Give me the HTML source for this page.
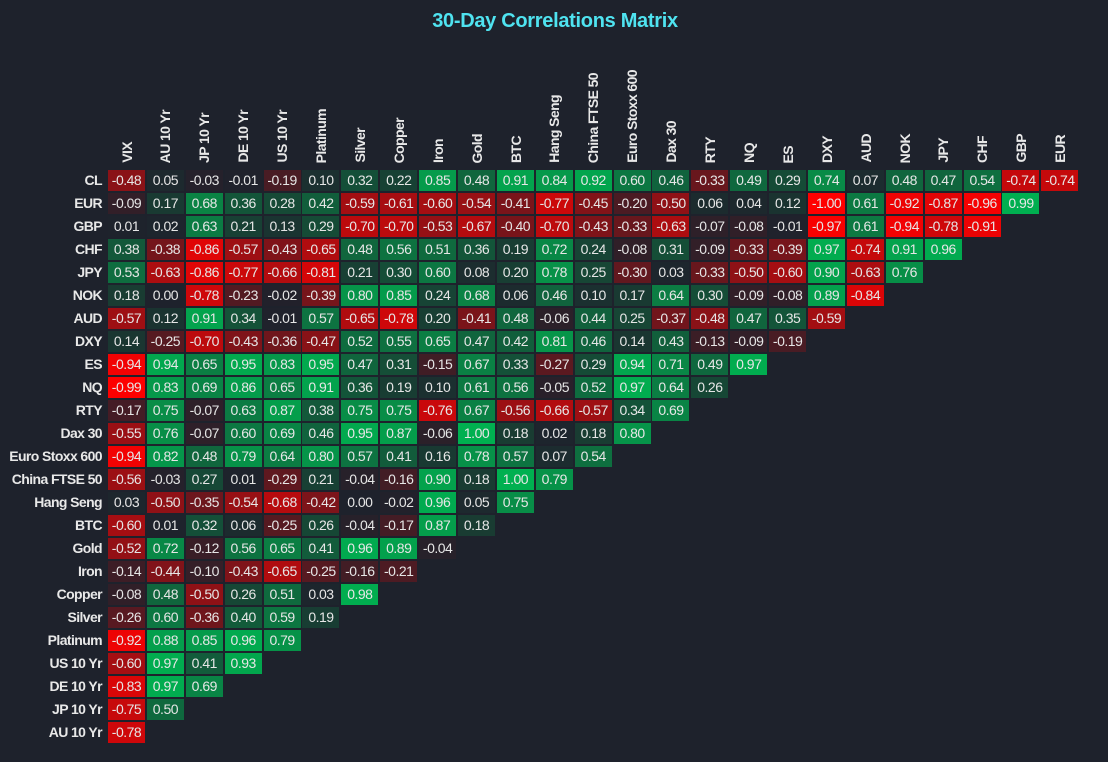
<!DOCTYPE html><html><head><meta charset="utf-8"><style>
body{margin:0;background:#1e222c;width:1108px;height:762px;overflow:hidden;font-family:"Liberation Sans",sans-serif;color:#e6e6e6;position:relative}
h1{position:absolute;top:10px;left:0;width:1110px;text-align:center;margin:0;font-size:20px;font-weight:bold;color:#4fe3f0;letter-spacing:-0.3px}
.r{position:absolute;left:108px;height:21px;display:flex;gap:1.9px}
.r b{position:absolute;right:calc(100% + 6px);top:0;line-height:21px;font-size:14px;white-space:nowrap;color:#e8e8e8;letter-spacing:-0.6px}
.r i{font-style:normal;width:37px;height:21px;line-height:21px;text-align:center;font-size:14px;flex:none;letter-spacing:-0.5px}
.n{background:color-mix(in srgb,#ff0000 var(--v),#1e222c)}
.p{background:color-mix(in srgb,#00b050 var(--v),#1e222c)}
.h{position:absolute;bottom:599px;width:37px;display:flex;justify-content:center}
.h span{writing-mode:vertical-rl;transform:rotate(180deg);font-size:14px;font-weight:bold;white-space:nowrap;color:#e8e8e8;letter-spacing:-0.6px}
</style></head><body>
<h1>30-Day Correlations Matrix</h1>
<div class="h" style="left:108px"><span>VIX</span></div>
<div class="h" style="left:146.9px"><span>AU 10 Yr</span></div>
<div class="h" style="left:185.8px"><span>JP 10 Yr</span></div>
<div class="h" style="left:224.7px"><span>DE 10 Yr</span></div>
<div class="h" style="left:263.6px"><span>US 10 Yr</span></div>
<div class="h" style="left:302.5px"><span>Platinum</span></div>
<div class="h" style="left:341.4px"><span>Silver</span></div>
<div class="h" style="left:380.3px"><span>Copper</span></div>
<div class="h" style="left:419.2px"><span>Iron</span></div>
<div class="h" style="left:458.1px"><span>Gold</span></div>
<div class="h" style="left:497px"><span>BTC</span></div>
<div class="h" style="left:535.9px"><span>Hang Seng</span></div>
<div class="h" style="left:574.8px"><span>China FTSE 50</span></div>
<div class="h" style="left:613.7px"><span>Euro Stoxx 600</span></div>
<div class="h" style="left:652.6px"><span>Dax 30</span></div>
<div class="h" style="left:691.5px"><span>RTY</span></div>
<div class="h" style="left:730.4px"><span>NQ</span></div>
<div class="h" style="left:769.3px"><span>ES</span></div>
<div class="h" style="left:808.2px"><span>DXY</span></div>
<div class="h" style="left:847.1px"><span>AUD</span></div>
<div class="h" style="left:886px"><span>NOK</span></div>
<div class="h" style="left:924.9px"><span>JPY</span></div>
<div class="h" style="left:963.8px"><span>CHF</span></div>
<div class="h" style="left:1002.7px"><span>GBP</span></div>
<div class="h" style="left:1041.6px"><span>EUR</span></div>

<div class="r" style="top:170px"><b>CL</b><i class=n style="--v:48%">-0.48</i><i class=p style="--v:5%">0.05</i><i class=n style="--v:3%">-0.03</i><i class=n style="--v:1%">-0.01</i><i class=n style="--v:19%">-0.19</i><i class=p style="--v:10%">0.10</i><i class=p style="--v:32%">0.32</i><i class=p style="--v:22%">0.22</i><i class=p style="--v:85%">0.85</i><i class=p style="--v:48%">0.48</i><i class=p style="--v:91%">0.91</i><i class=p style="--v:84%">0.84</i><i class=p style="--v:92%">0.92</i><i class=p style="--v:60%">0.60</i><i class=p style="--v:46%">0.46</i><i class=n style="--v:33%">-0.33</i><i class=p style="--v:49%">0.49</i><i class=p style="--v:29%">0.29</i><i class=p style="--v:74%">0.74</i><i class=p style="--v:7%">0.07</i><i class=p style="--v:48%">0.48</i><i class=p style="--v:47%">0.47</i><i class=p style="--v:54%">0.54</i><i class=n style="--v:74%">-0.74</i><i class=n style="--v:74%">-0.74</i></div>
<div class="r" style="top:193px"><b>EUR</b><i class=n style="--v:9%">-0.09</i><i class=p style="--v:17%">0.17</i><i class=p style="--v:68%">0.68</i><i class=p style="--v:36%">0.36</i><i class=p style="--v:28%">0.28</i><i class=p style="--v:42%">0.42</i><i class=n style="--v:59%">-0.59</i><i class=n style="--v:61%">-0.61</i><i class=n style="--v:60%">-0.60</i><i class=n style="--v:54%">-0.54</i><i class=n style="--v:41%">-0.41</i><i class=n style="--v:77%">-0.77</i><i class=n style="--v:45%">-0.45</i><i class=n style="--v:20%">-0.20</i><i class=n style="--v:50%">-0.50</i><i class=p style="--v:6%">0.06</i><i class=p style="--v:4%">0.04</i><i class=p style="--v:12%">0.12</i><i class=n style="--v:100%">-1.00</i><i class=p style="--v:61%">0.61</i><i class=n style="--v:92%">-0.92</i><i class=n style="--v:87%">-0.87</i><i class=n style="--v:96%">-0.96</i><i class=p style="--v:99%">0.99</i></div>
<div class="r" style="top:216px"><b>GBP</b><i class=p style="--v:1%">0.01</i><i class=p style="--v:2%">0.02</i><i class=p style="--v:63%">0.63</i><i class=p style="--v:21%">0.21</i><i class=p style="--v:13%">0.13</i><i class=p style="--v:29%">0.29</i><i class=n style="--v:70%">-0.70</i><i class=n style="--v:70%">-0.70</i><i class=n style="--v:53%">-0.53</i><i class=n style="--v:67%">-0.67</i><i class=n style="--v:40%">-0.40</i><i class=n style="--v:70%">-0.70</i><i class=n style="--v:43%">-0.43</i><i class=n style="--v:33%">-0.33</i><i class=n style="--v:63%">-0.63</i><i class=n style="--v:7%">-0.07</i><i class=n style="--v:8%">-0.08</i><i class=n style="--v:1%">-0.01</i><i class=n style="--v:97%">-0.97</i><i class=p style="--v:61%">0.61</i><i class=n style="--v:94%">-0.94</i><i class=n style="--v:78%">-0.78</i><i class=n style="--v:91%">-0.91</i></div>
<div class="r" style="top:239px"><b>CHF</b><i class=p style="--v:38%">0.38</i><i class=n style="--v:38%">-0.38</i><i class=n style="--v:86%">-0.86</i><i class=n style="--v:57%">-0.57</i><i class=n style="--v:43%">-0.43</i><i class=n style="--v:65%">-0.65</i><i class=p style="--v:48%">0.48</i><i class=p style="--v:56%">0.56</i><i class=p style="--v:51%">0.51</i><i class=p style="--v:36%">0.36</i><i class=p style="--v:19%">0.19</i><i class=p style="--v:72%">0.72</i><i class=p style="--v:24%">0.24</i><i class=n style="--v:8%">-0.08</i><i class=p style="--v:31%">0.31</i><i class=n style="--v:9%">-0.09</i><i class=n style="--v:33%">-0.33</i><i class=n style="--v:39%">-0.39</i><i class=p style="--v:97%">0.97</i><i class=n style="--v:74%">-0.74</i><i class=p style="--v:91%">0.91</i><i class=p style="--v:96%">0.96</i></div>
<div class="r" style="top:262px"><b>JPY</b><i class=p style="--v:53%">0.53</i><i class=n style="--v:63%">-0.63</i><i class=n style="--v:86%">-0.86</i><i class=n style="--v:77%">-0.77</i><i class=n style="--v:66%">-0.66</i><i class=n style="--v:81%">-0.81</i><i class=p style="--v:21%">0.21</i><i class=p style="--v:30%">0.30</i><i class=p style="--v:60%">0.60</i><i class=p style="--v:8%">0.08</i><i class=p style="--v:20%">0.20</i><i class=p style="--v:78%">0.78</i><i class=p style="--v:25%">0.25</i><i class=n style="--v:30%">-0.30</i><i class=p style="--v:3%">0.03</i><i class=n style="--v:33%">-0.33</i><i class=n style="--v:50%">-0.50</i><i class=n style="--v:60%">-0.60</i><i class=p style="--v:90%">0.90</i><i class=n style="--v:63%">-0.63</i><i class=p style="--v:76%">0.76</i></div>
<div class="r" style="top:285px"><b>NOK</b><i class=p style="--v:18%">0.18</i><i class=p style="--v:0%">0.00</i><i class=n style="--v:78%">-0.78</i><i class=n style="--v:23%">-0.23</i><i class=n style="--v:2%">-0.02</i><i class=n style="--v:39%">-0.39</i><i class=p style="--v:80%">0.80</i><i class=p style="--v:85%">0.85</i><i class=p style="--v:24%">0.24</i><i class=p style="--v:68%">0.68</i><i class=p style="--v:6%">0.06</i><i class=p style="--v:46%">0.46</i><i class=p style="--v:10%">0.10</i><i class=p style="--v:17%">0.17</i><i class=p style="--v:64%">0.64</i><i class=p style="--v:30%">0.30</i><i class=n style="--v:9%">-0.09</i><i class=n style="--v:8%">-0.08</i><i class=p style="--v:89%">0.89</i><i class=n style="--v:84%">-0.84</i></div>
<div class="r" style="top:308px"><b>AUD</b><i class=n style="--v:57%">-0.57</i><i class=p style="--v:12%">0.12</i><i class=p style="--v:91%">0.91</i><i class=p style="--v:34%">0.34</i><i class=n style="--v:1%">-0.01</i><i class=p style="--v:57%">0.57</i><i class=n style="--v:65%">-0.65</i><i class=n style="--v:78%">-0.78</i><i class=p style="--v:20%">0.20</i><i class=n style="--v:41%">-0.41</i><i class=p style="--v:48%">0.48</i><i class=n style="--v:6%">-0.06</i><i class=p style="--v:44%">0.44</i><i class=p style="--v:25%">0.25</i><i class=n style="--v:37%">-0.37</i><i class=n style="--v:48%">-0.48</i><i class=p style="--v:47%">0.47</i><i class=p style="--v:35%">0.35</i><i class=n style="--v:59%">-0.59</i></div>
<div class="r" style="top:331px"><b>DXY</b><i class=p style="--v:14%">0.14</i><i class=n style="--v:25%">-0.25</i><i class=n style="--v:70%">-0.70</i><i class=n style="--v:43%">-0.43</i><i class=n style="--v:36%">-0.36</i><i class=n style="--v:47%">-0.47</i><i class=p style="--v:52%">0.52</i><i class=p style="--v:55%">0.55</i><i class=p style="--v:65%">0.65</i><i class=p style="--v:47%">0.47</i><i class=p style="--v:42%">0.42</i><i class=p style="--v:81%">0.81</i><i class=p style="--v:46%">0.46</i><i class=p style="--v:14%">0.14</i><i class=p style="--v:43%">0.43</i><i class=n style="--v:13%">-0.13</i><i class=n style="--v:9%">-0.09</i><i class=n style="--v:19%">-0.19</i></div>
<div class="r" style="top:354px"><b>ES</b><i class=n style="--v:94%">-0.94</i><i class=p style="--v:94%">0.94</i><i class=p style="--v:65%">0.65</i><i class=p style="--v:95%">0.95</i><i class=p style="--v:83%">0.83</i><i class=p style="--v:95%">0.95</i><i class=p style="--v:47%">0.47</i><i class=p style="--v:31%">0.31</i><i class=n style="--v:15%">-0.15</i><i class=p style="--v:67%">0.67</i><i class=p style="--v:33%">0.33</i><i class=n style="--v:27%">-0.27</i><i class=p style="--v:29%">0.29</i><i class=p style="--v:94%">0.94</i><i class=p style="--v:71%">0.71</i><i class=p style="--v:49%">0.49</i><i class=p style="--v:97%">0.97</i></div>
<div class="r" style="top:377px"><b>NQ</b><i class=n style="--v:99%">-0.99</i><i class=p style="--v:83%">0.83</i><i class=p style="--v:69%">0.69</i><i class=p style="--v:86%">0.86</i><i class=p style="--v:65%">0.65</i><i class=p style="--v:91%">0.91</i><i class=p style="--v:36%">0.36</i><i class=p style="--v:19%">0.19</i><i class=p style="--v:10%">0.10</i><i class=p style="--v:61%">0.61</i><i class=p style="--v:56%">0.56</i><i class=n style="--v:5%">-0.05</i><i class=p style="--v:52%">0.52</i><i class=p style="--v:97%">0.97</i><i class=p style="--v:64%">0.64</i><i class=p style="--v:26%">0.26</i></div>
<div class="r" style="top:400px"><b>RTY</b><i class=n style="--v:17%">-0.17</i><i class=p style="--v:75%">0.75</i><i class=n style="--v:7%">-0.07</i><i class=p style="--v:63%">0.63</i><i class=p style="--v:87%">0.87</i><i class=p style="--v:38%">0.38</i><i class=p style="--v:75%">0.75</i><i class=p style="--v:75%">0.75</i><i class=n style="--v:76%">-0.76</i><i class=p style="--v:67%">0.67</i><i class=n style="--v:56%">-0.56</i><i class=n style="--v:66%">-0.66</i><i class=n style="--v:57%">-0.57</i><i class=p style="--v:34%">0.34</i><i class=p style="--v:69%">0.69</i></div>
<div class="r" style="top:423px"><b>Dax 30</b><i class=n style="--v:55%">-0.55</i><i class=p style="--v:76%">0.76</i><i class=n style="--v:7%">-0.07</i><i class=p style="--v:60%">0.60</i><i class=p style="--v:69%">0.69</i><i class=p style="--v:46%">0.46</i><i class=p style="--v:95%">0.95</i><i class=p style="--v:87%">0.87</i><i class=n style="--v:6%">-0.06</i><i class=p style="--v:100%">1.00</i><i class=p style="--v:18%">0.18</i><i class=p style="--v:2%">0.02</i><i class=p style="--v:18%">0.18</i><i class=p style="--v:80%">0.80</i></div>
<div class="r" style="top:446px"><b>Euro Stoxx 600</b><i class=n style="--v:94%">-0.94</i><i class=p style="--v:82%">0.82</i><i class=p style="--v:48%">0.48</i><i class=p style="--v:79%">0.79</i><i class=p style="--v:64%">0.64</i><i class=p style="--v:80%">0.80</i><i class=p style="--v:57%">0.57</i><i class=p style="--v:41%">0.41</i><i class=p style="--v:16%">0.16</i><i class=p style="--v:78%">0.78</i><i class=p style="--v:57%">0.57</i><i class=p style="--v:7%">0.07</i><i class=p style="--v:54%">0.54</i></div>
<div class="r" style="top:469px"><b>China FTSE 50</b><i class=n style="--v:56%">-0.56</i><i class=n style="--v:3%">-0.03</i><i class=p style="--v:27%">0.27</i><i class=p style="--v:1%">0.01</i><i class=n style="--v:29%">-0.29</i><i class=p style="--v:21%">0.21</i><i class=n style="--v:4%">-0.04</i><i class=n style="--v:16%">-0.16</i><i class=p style="--v:90%">0.90</i><i class=p style="--v:18%">0.18</i><i class=p style="--v:100%">1.00</i><i class=p style="--v:79%">0.79</i></div>
<div class="r" style="top:492px"><b>Hang Seng</b><i class=p style="--v:3%">0.03</i><i class=n style="--v:50%">-0.50</i><i class=n style="--v:35%">-0.35</i><i class=n style="--v:54%">-0.54</i><i class=n style="--v:68%">-0.68</i><i class=n style="--v:42%">-0.42</i><i class=p style="--v:0%">0.00</i><i class=n style="--v:2%">-0.02</i><i class=p style="--v:96%">0.96</i><i class=p style="--v:5%">0.05</i><i class=p style="--v:75%">0.75</i></div>
<div class="r" style="top:515px"><b>BTC</b><i class=n style="--v:60%">-0.60</i><i class=p style="--v:1%">0.01</i><i class=p style="--v:32%">0.32</i><i class=p style="--v:6%">0.06</i><i class=n style="--v:25%">-0.25</i><i class=p style="--v:26%">0.26</i><i class=n style="--v:4%">-0.04</i><i class=n style="--v:17%">-0.17</i><i class=p style="--v:87%">0.87</i><i class=p style="--v:18%">0.18</i></div>
<div class="r" style="top:538px"><b>Gold</b><i class=n style="--v:52%">-0.52</i><i class=p style="--v:72%">0.72</i><i class=n style="--v:12%">-0.12</i><i class=p style="--v:56%">0.56</i><i class=p style="--v:65%">0.65</i><i class=p style="--v:41%">0.41</i><i class=p style="--v:96%">0.96</i><i class=p style="--v:89%">0.89</i><i class=n style="--v:4%">-0.04</i></div>
<div class="r" style="top:561px"><b>Iron</b><i class=n style="--v:14%">-0.14</i><i class=n style="--v:44%">-0.44</i><i class=n style="--v:10%">-0.10</i><i class=n style="--v:43%">-0.43</i><i class=n style="--v:65%">-0.65</i><i class=n style="--v:25%">-0.25</i><i class=n style="--v:16%">-0.16</i><i class=n style="--v:21%">-0.21</i></div>
<div class="r" style="top:584px"><b>Copper</b><i class=n style="--v:8%">-0.08</i><i class=p style="--v:48%">0.48</i><i class=n style="--v:50%">-0.50</i><i class=p style="--v:26%">0.26</i><i class=p style="--v:51%">0.51</i><i class=p style="--v:3%">0.03</i><i class=p style="--v:98%">0.98</i></div>
<div class="r" style="top:607px"><b>Silver</b><i class=n style="--v:26%">-0.26</i><i class=p style="--v:60%">0.60</i><i class=n style="--v:36%">-0.36</i><i class=p style="--v:40%">0.40</i><i class=p style="--v:59%">0.59</i><i class=p style="--v:19%">0.19</i></div>
<div class="r" style="top:630px"><b>Platinum</b><i class=n style="--v:92%">-0.92</i><i class=p style="--v:88%">0.88</i><i class=p style="--v:85%">0.85</i><i class=p style="--v:96%">0.96</i><i class=p style="--v:79%">0.79</i></div>
<div class="r" style="top:653px"><b>US 10 Yr</b><i class=n style="--v:60%">-0.60</i><i class=p style="--v:97%">0.97</i><i class=p style="--v:41%">0.41</i><i class=p style="--v:93%">0.93</i></div>
<div class="r" style="top:676px"><b>DE 10 Yr</b><i class=n style="--v:83%">-0.83</i><i class=p style="--v:97%">0.97</i><i class=p style="--v:69%">0.69</i></div>
<div class="r" style="top:699px"><b>JP 10 Yr</b><i class=n style="--v:75%">-0.75</i><i class=p style="--v:50%">0.50</i></div>
<div class="r" style="top:722px"><b>AU 10 Yr</b><i class=n style="--v:78%">-0.78</i></div>
</body></html>
